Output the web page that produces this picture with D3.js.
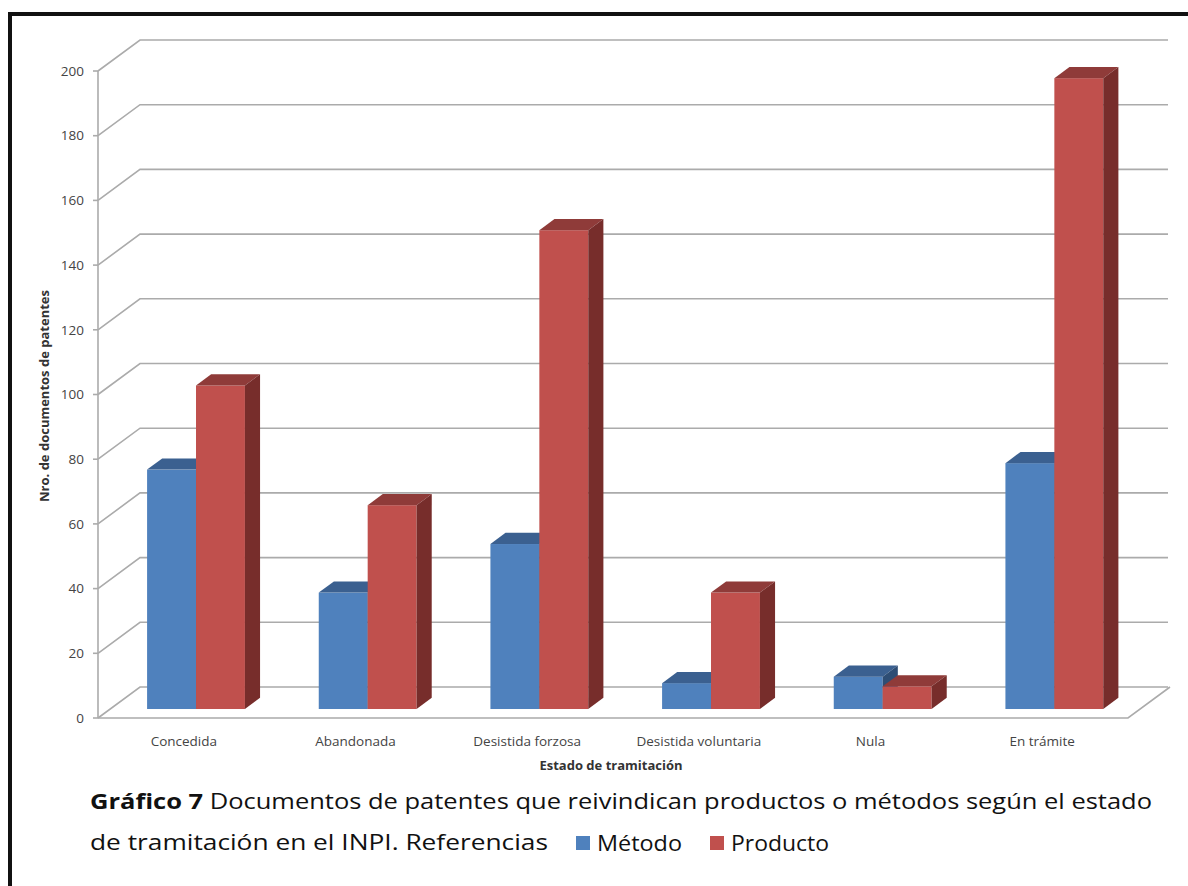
<!DOCTYPE html>
<html>
<head>
<meta charset="utf-8">
<script src="https://cdn.jsdelivr.net/npm/d3@7"></script>
<style>
  body { margin: 0; background: #fff; }
  text { font-family: "Open Sans", "Noto Sans", sans-serif; }
</style>
</head>
<body>
<div id="chart-area"></div>
<script>
// 3d style column chart, excel look

const WIDTH = 1188;
const HEIGHT = 886;

const categories = ["Concedida", "Abandonada", "Desistida forzosa", "Desistida voluntaria", "Nula", "En trámite"];
const series = ["Método", "Producto"];
const metodo = [74, 36, 51, 8, 10, 76];
const producto = [100, 63, 148, 36, 7, 195];
const yTicks = [0, 20, 40, 60, 80, 100, 120, 140, 160, 180, 200];

const colors = {
    "Método": { front: "#4f81bd", top: "#3b6090", side: "#2e4d74" },
    "Producto": { front: "#c0504d", top: "#8f3b39", side: "#772d2b" }
};

// floor depth (oblique projection)
const DEPTH_X = 42, DEPTH_Y = -31;
const Z0 = 0.29, Z1 = 0.65;   // bar front / back as fraction of depth

let svg = d3.select("#chart-area").append("svg")
    .attr("width", WIDTH)
    .attr("height", HEIGHT);

// frame
svg.append("path")
    .attr("d", `M10,${HEIGHT} L10,14 L${WIDTH},14`)
    .attr("fill", "none")
    .attr("stroke", "#111")
    .attr("stroke-width", 4);

let x = d3.scaleBand()
    .domain(categories)
    .range([98, 1128])
    .paddingInner(0.43)
    .paddingOuter(0.215);

let xs = d3.scaleBand()
    .domain(series)
    .range([0, x.bandwidth()]);

let y = d3.scaleLinear()
    .domain([0, 200])
    .range([718, 71]);

const GRID = "#ababab";

// back wall gridlines
svg.selectAll(".grid")
    .data(yTicks)
    .enter().append("path")
    .attr("class", "grid")
    .attr("d", v => `M98,${y(v)} L${98 + DEPTH_X},${y(v) + DEPTH_Y} L1168,${y(v) + DEPTH_Y}`)
    .attr("fill", "none")
    .attr("stroke", GRID)
    .attr("stroke-width", 1.6);

// floor front + right edge
svg.append("path")
    .attr("d", `M98,${y(0)} L1128,${y(0)} L${1128 + DEPTH_X},${y(0) + DEPTH_Y}`)
    .attr("fill", "none")
    .attr("stroke", GRID)
    .attr("stroke-width", 1.6);

// vertical axis + ticks
svg.append("line")
    .attr("x1", 98).attr("x2", 98)
    .attr("y1", y(200)).attr("y2", y(0))
    .attr("stroke", GRID)
    .attr("stroke-width", 1.6);

svg.selectAll(".tick-mark")
    .data(yTicks)
    .enter().append("line")
    .attr("x1", 93).attr("x2", 98)
    .attr("y1", v => y(v)).attr("y2", v => y(v))
    .attr("stroke", GRID)
    .attr("stroke-width", 1.6);

svg.selectAll(".tick-label")
    .data(yTicks)
    .enter().append("text")
    .attr("x", 84)
    .attr("y", v => y(v))
    .attr("dy", "0.35em")
    .attr("text-anchor", "end")
    .attr("font-size", 13.5)
    .attr("fill", "#444")
    .text(v => v);

// bars
let bars = [];
categories.forEach((c, i) => {
    bars.push({ cat: c, ser: "Método", value: metodo[i] });
    bars.push({ cat: c, ser: "Producto", value: producto[i] });
});

const fx = Z0 * DEPTH_X, fy = Z0 * DEPTH_Y;
const dx = (Z1 - Z0) * DEPTH_X, dy = (Z1 - Z0) * DEPTH_Y;

let barG = svg.selectAll(".bar")
    .data(bars)
    .enter().append("g")
    .attr("class", "bar");

barG.each(function(b) {
    const g = d3.select(this);
    const x0 = x(b.cat) + xs(b.ser) + fx;
    const x1 = x0 + xs.bandwidth();
    const yT = y(b.value) + fy;
    const yB = y(0) + fy;
    const col = colors[b.ser];

    g.append("rect")
        .attr("x", x0).attr("y", yT)
        .attr("width", x1 - x0).attr("height", yB - yT)
        .attr("fill", col.front);
    g.append("path")
        .attr("d", `M${x0},${yT} L${x1},${yT} L${x1 + dx},${yT + dy} L${x0 + dx},${yT + dy} Z`)
        .attr("fill", col.top);
    g.append("path")
        .attr("d", `M${x1},${yT} L${x1 + dx},${yT + dy} L${x1 + dx},${yB + dy} L${x1},${yB} Z`)
        .attr("fill", col.side);
});

// category labels
svg.selectAll(".cat-label")
    .data(categories)
    .enter().append("text")
    .attr("x", c => x(c) + x.bandwidth() / 2)
    .attr("y", 746)
    .attr("text-anchor", "middle")
    .attr("font-size", 13.5)
    .attr("fill", "#444")
    .text(c => c);

// axis titles
svg.append("text")
    .attr("x", 611)
    .attr("y", 770)
    .attr("text-anchor", "middle")
    .attr("font-size", 13)
    .attr("font-weight", "bold")
    .attr("fill", "#333")
    .text("Estado de tramitación");

svg.append("text")
    .attr("transform", "translate(49,396) rotate(-90)")
    .attr("text-anchor", "middle")
    .attr("font-size", 13)
    .attr("font-weight", "bold")
    .attr("fill", "#333")
    .text("Nro. de documentos de patentes");

// caption
let cap1 = svg.append("text")
    .attr("x", 90)
    .attr("y", 809)
    .attr("font-size", 22)
    .attr("fill", "#111")
    .attr("textLength", 1062)
    .attr("lengthAdjust", "spacingAndGlyphs");
cap1.append("tspan").attr("font-weight", "bold").text("Gráfico 7");
cap1.append("tspan").text(" Documentos de patentes que reivindican productos o métodos según el estado");

svg.append("text")
    .attr("x", 90)
    .attr("y", 850)
    .attr("font-size", 22)
    .attr("fill", "#111")
    .attr("textLength", 458)
    .attr("lengthAdjust", "spacingAndGlyphs")
    .text("de tramitación en el INPI.  Referencias");

// legend
const legendX = [576, 710];
series.forEach((s, i) => {
    svg.append("rect")
        .attr("x", legendX[i]).attr("y", 836)
        .attr("width", 14).attr("height", 14)
        .attr("fill", colors[s].front);
    svg.append("text")
        .attr("x", legendX[i] + 21)
        .attr("y", 851)
        .attr("font-size", 22)
        .attr("fill", "#111")
        .attr("textLength", i === 0 ? 85 : 98)
        .attr("lengthAdjust", "spacingAndGlyphs")
        .text(s);
});
</script>
</body>
</html>
